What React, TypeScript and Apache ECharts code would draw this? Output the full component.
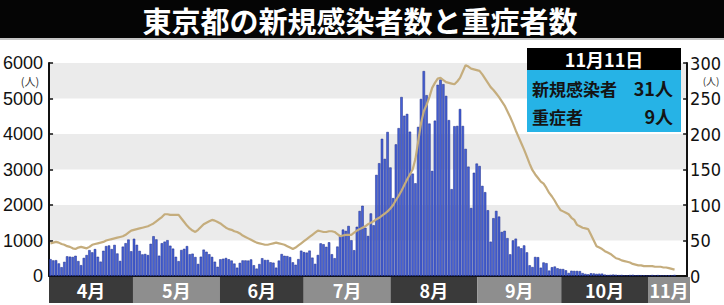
import React, { useEffect, useRef } from "react";
import * as echarts from "echarts";

const titleText = "東京都の新規感染者数と重症者数";
const monthNames = ["4月", "5月", "6月", "7月", "8月", "9月", "10月", "11月"];
// days on the axis per month (November axis runs a few days past the last data point)
const monthLengths = [30, 31, 30, 31, 31, 30, 31, 15];
const monthColors = ["#3a3a3a", "#8e8e8e"];

const leftTicks = [0, 1000, 2000, 3000, 4000, 5000, 6000];
const rightTicks = [0, 50, 100, 150, 200, 250, 300];

const infoDate = "11月11日";
const infoRows = [
  { label: "新規感染者", value: "31人" },
  { label: "重症者", value: "9人" },
];

// daily new cases, Apr 1 – Nov 11
const casesApr = [475, 440, 446, 355, 249, 399, 555, 545, 537, 570, 421, 306, 510, 591, 729, 667, 759, 543, 405, 711, 843, 861, 759, 876, 635, 425, 828, 925, 1027, 698];
const casesMay = [1050, 879, 708, 609, 621, 591, 907, 1121, 1032, 573, 925, 969, 1010, 854, 772, 542, 419, 732, 766, 843, 614, 629, 535, 340, 544, 743, 684, 614, 539, 403, 260];
const casesJun = [471, 487, 508, 472, 436, 351, 235, 369, 440, 439, 435, 467, 304, 209, 337, 501, 452, 453, 388, 376, 236, 435, 619, 570, 562, 534, 386, 317, 476, 714];
const casesJul = [673, 660, 716, 518, 342, 593, 920, 896, 822, 950, 614, 502, 830, 1149, 1308, 1271, 1410, 1008, 727, 1387, 1832, 1979, 1359, 1128, 1763, 1429, 2848, 3177, 3865, 3300, 4058];
const casesAug = [3058, 2195, 3709, 4166, 5042, 4515, 4566, 4066, 2884, 2612, 4200, 4989, 5773, 5094, 4295, 2962, 4377, 5386, 5534, 5405, 5074, 4392, 2447, 4220, 4228, 4704, 4227, 3581, 3081, 1915, 2909];
const casesSep = [3168, 3099, 2539, 2362, 1853, 968, 1629, 1834, 1675, 1242, 1273, 1067, 611, 1004, 1052, 831, 782, 862, 667, 302, 253, 537, 531, 235, 382, 362, 154, 248, 267, 218];
const casesOct = [200, 196, 161, 87, 149, 144, 143, 138, 82, 60, 49, 77, 72, 62, 66, 67, 40, 29, 36, 41, 36, 26, 32, 19, 17, 29, 36, 21, 24, 23, 22];
const casesNov = [9, 18, 29, 17, 26, 17, 18, 19, 18, 18, 31];

// severe cases (right axis), Apr 1 – Nov 11
const severe = [
  46, 47, 48, 47, 45, 44, 42, 41, 39, 38, 40, 41, 40, 39, 41, 44, 45, 46, 47, 48,
  50, 51, 52, 53, 54, 55, 56, 58, 61, 64, 65, 66, 67, 68, 69, 70, 72, 74, 77, 80,
  83, 87, 87, 86, 86, 86, 86, 81, 76, 71, 67, 64, 62, 65, 69, 73, 75, 77, 79, 78,
  76, 74, 71, 68, 66, 65, 63, 62, 60, 57, 55, 53, 51, 49, 47, 46, 45, 44, 44, 45,
  46, 47, 46, 45, 44, 42, 40, 38, 40, 43, 46, 49, 52, 55, 58, 61, 64, 63, 62, 62,
  63, 63, 62, 59, 56, 57, 58, 58, 58, 61, 64, 66, 68, 70, 73, 75, 77, 80, 82, 85,
  88, 91, 95, 100, 107, 113, 120, 128, 136, 143, 150, 165, 190, 215, 232, 241, 252, 265, 272, 278,
  279, 276, 273, 272, 271, 270, 274, 279, 288, 297, 295, 292, 291, 290, 289, 284, 278, 272, 266, 262,
  257, 252, 246, 240, 232, 224, 215, 205, 196, 187, 178, 168, 158, 149, 143, 138, 133, 130, 124, 117,
  112, 106, 99, 93, 91, 89, 87, 82, 79, 72, 70, 68, 67, 66, 58, 50, 42, 40, 38, 35,
  33, 31, 28, 25, 24, 22, 21, 20, 19, 17, 16, 15, 15, 14, 14, 14, 14, 13, 13, 13,
  12, 12, 11, 10, 9,
];

const cases = [...casesApr, ...casesMay, ...casesJun, ...casesJul, ...casesAug, ...casesSep, ...casesOct, ...casesNov];

const categories: string[] = [];
const monthStarts: number[] = [];
monthLengths.forEach((len, m) => {
  monthStarts.push(categories.length);
  for (let d = 1; d <= len; d++) categories.push(`${m + 4}/${d}`);
});
const totalDays = categories.length;

const numFont = "'Liberation Sans', Arial, sans-serif";
const narrowFont = "'Liberation Sans Narrow', 'DejaVu Sans Condensed', sans-serif";
const jpFont = "'Noto Sans CJK JP', 'Noto Sans', sans-serif";

export default function App() {
  const ref = useRef<HTMLDivElement>(null);
  useEffect(() => {
    if (!ref.current) return;
    const chart = echarts.init(ref.current, undefined, { renderer: "svg" });

    const monthAreas = monthNames.map((name, i) => {
      const start = monthStarts[i] - 0.5;
      const end = (i + 1 < monthStarts.length ? monthStarts[i + 1] : totalDays) - 0.5;
      return [
        {
          name,
          xAxis: start,
          itemStyle: { color: monthColors[i % 2] },
        },
        { xAxis: end },
      ];
    });

    const boxX = 527;
    const boxW = 154;
    chart.setOption({
      animation: false,
      backgroundColor: "#ffffff",
      grid: [
        { left: 49, right: 34, top: 63, height: 213 },
        { left: 49, right: 34, top: 277, height: 26 },
      ],
      xAxis: [
        {
          type: "category",
          data: categories,
          gridIndex: 0,
          boundaryGap: true,
          axisLine: { show: true, lineStyle: { color: "#111", width: 2 } },
          axisTick: { show: false },
          axisLabel: { show: false },
          splitLine: { show: false },
        },
        {
          type: "value",
          gridIndex: 1,
          min: -0.5,
          max: totalDays - 0.5,
          show: false,
        },
      ],
      yAxis: [
        {
          type: "value",
          gridIndex: 0,
          min: leftTicks[0],
          max: leftTicks[leftTicks.length - 1],
          interval: leftTicks[1] - leftTicks[0],
          position: "left",
          axisLine: { show: true, lineStyle: { color: "#111", width: 2 } },
          axisTick: { show: true, inside: true, length: 4, lineStyle: { color: "#111", width: 1.5 } },
          axisLabel: { color: "#111", fontSize: 18, fontFamily: numFont, margin: 6, formatter: (v: number) => String(v) },
          splitLine: { show: false },
          splitArea: { show: true, areaStyle: { color: ["#ffffff", "#ebebeb"] } },
        },
        {
          type: "value",
          gridIndex: 0,
          min: rightTicks[0],
          max: rightTicks[rightTicks.length - 1],
          interval: rightTicks[1] - rightTicks[0],
          position: "right",
          axisLine: { show: true, lineStyle: { color: "#111", width: 2 } },
          axisTick: { show: true, inside: true, length: 4, lineStyle: { color: "#111", width: 1.5 } },
          axisLabel: { color: "#111", fontSize: 18, fontFamily: narrowFont, margin: 3, formatter: (v: number) => String(v) },
          splitLine: { show: false },
        },
        { type: "value", gridIndex: 1, min: 0, max: 1, show: false },
      ],
      series: [
        {
          type: "bar",
          xAxisIndex: 0,
          yAxisIndex: 0,
          data: cases,
          barCategoryGap: "12%",
          itemStyle: { color: "#4662d8", borderColor: "#1d2a86", borderWidth: 0.5 },
          z: 2,
        },
        {
          type: "line",
          xAxisIndex: 0,
          yAxisIndex: 1,
          data: severe,
          symbol: "none",
          lineStyle: { color: "#c5ad7d", width: 2.2 },
          z: 3,
        },
        {
          type: "scatter",
          xAxisIndex: 1,
          yAxisIndex: 2,
          data: [[0, -1]],
          symbolSize: 0,
          silent: true,
          markArea: {
            silent: true,
            label: {
              show: true,
              position: "inside",
              color: "#ffffff",
              fontSize: 18,
              fontWeight: "bold",
              fontFamily: jpFont,
            },
            data: monthAreas,
          },
        },
      ],
      graphic: [
        { type: "rect", shape: { x: 0, y: 0, width: 724, height: 38 }, style: { fill: "#050505" }, z: 10 },
        { type: "rect", shape: { x: 0, y: 38, width: 724, height: 2 }, style: { fill: "#c4c4c4" }, z: 10 },
        {
          type: "text",
          x: 360,
          y: 20,
          style: {
            text: titleText,
            fill: "#ffffff",
            font: `bold 29px ${jpFont}`,
            textAlign: "center",
            textVerticalAlign: "middle",
          },
          z: 11,
        },
        {
          type: "text",
          x: 30,
          y: 81,
          style: { text: "(人)", fill: "#333", font: `11px ${jpFont}`, textAlign: "center", textVerticalAlign: "middle" },
          z: 11,
        },
        {
          type: "text",
          x: 711,
          y: 80,
          style: { text: "(人)", fill: "#333", font: `10px ${jpFont}`, textAlign: "center", textVerticalAlign: "middle" },
          z: 11,
        },
        { type: "rect", shape: { x: boxX, y: 48, width: boxW, height: 22 }, style: { fill: "#000000" }, z: 20 },
        { type: "rect", shape: { x: boxX, y: 70, width: boxW, height: 62 }, style: { fill: "#26b3e6" }, z: 20 },
        {
          type: "text",
          x: boxX + boxW / 2,
          y: 59,
          style: { text: infoDate, fill: "#ffffff", font: `bold 18px ${jpFont}`, textAlign: "center", textVerticalAlign: "middle" },
          z: 21,
        },
        ...infoRows.flatMap((row, i) => [
          {
            type: "text",
            x: boxX + 5,
            y: 88 + i * 28,
            style: { text: row.label, fill: "#141414", font: `bold 17px ${jpFont}`, textAlign: "left", textVerticalAlign: "middle" },
            z: 21,
          },
          {
            type: "text",
            x: boxX + boxW - 8,
            y: 88 + i * 28,
            style: { text: row.value, fill: "#141414", font: `bold 18px ${jpFont}`, textAlign: "right", textVerticalAlign: "middle" },
            z: 21,
          },
        ]),
      ],
    });
    return () => chart.dispose();
  }, []);
  return <div ref={ref} style={{ position: "absolute", left: 0, top: 0, width: 724, height: 305 }} />;
}
